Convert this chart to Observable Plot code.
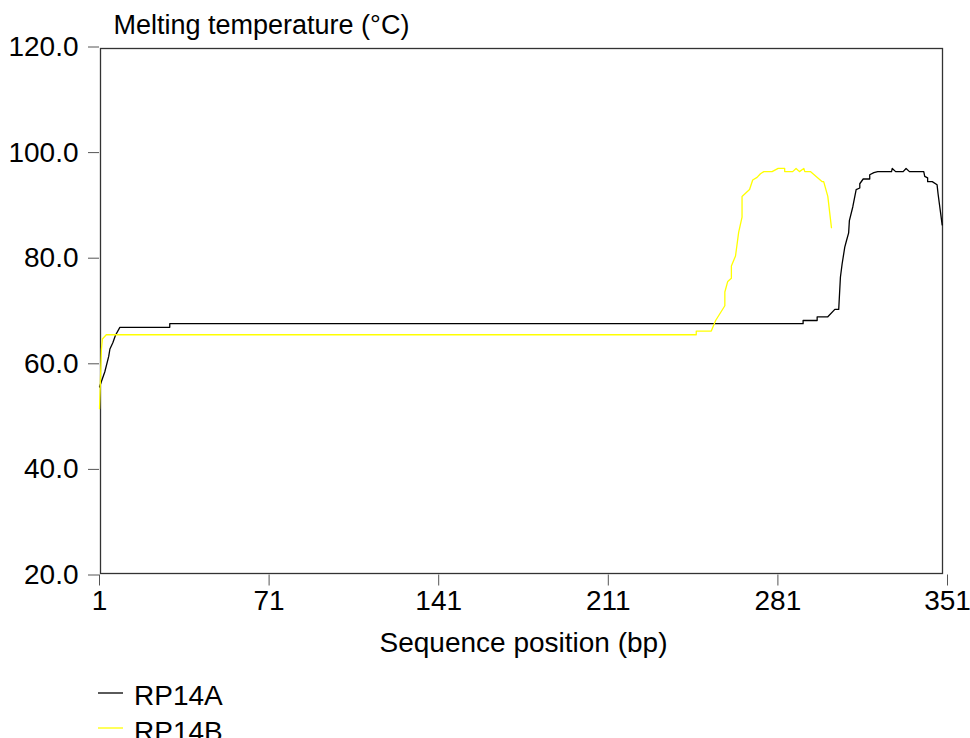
<!DOCTYPE html>
<html><head><meta charset="utf-8">
<script src="https://cdn.jsdelivr.net/npm/d3@7"></script>
<script src="https://cdn.jsdelivr.net/npm/@observablehq/plot@0.6"></script>
<style>
body{margin:0;background:#fff;font-family:"Liberation Sans",Arial,sans-serif;}
#chart svg{display:block}
#legend{padding-top:8px;margin-left:98px;font-size:28px;color:#000;line-height:35.6px}
.row{display:flex;align-items:center;height:35.6px}
.row svg{display:block;position:relative;top:-3px;margin-right:11px}
</style></head><body><div id="chart"></div><div id="legend"></div>
<script>
const seriesNames = ["RP14A", "RP14B"];
const seriesColors = ["#000000", "#ffff00"];

const posA = [1, 3.2, 4.8, 5.3, 6.5, 7.6, 9.4, 30.0, 30.0, 291.4, 291.4, 297.2, 297.2, 301.6, 304.5, 306.1, 306.8, 307.5, 308.6, 309.3, 310.2, 310.5, 311.9, 313.3, 314.8, 314.8, 316.2, 318.9, 318.9, 320.6, 322.2, 327.9, 328.2, 329.6, 332.7, 333.9, 335.3, 341.2, 341.6, 342.8, 342.8, 344.7, 346.7, 347.1, 348.8];
const tmA  = [55.6, 58.5, 61.4, 62.8, 64.0, 65.4, 66.9, 66.9, 67.6, 67.6, 68.2, 68.2, 68.9, 68.9, 70.3, 70.3, 76.4, 78.9, 82.1, 83.3, 84.8, 87.1, 89.7, 93.0, 93.3, 94.1, 95.0, 95.0, 95.8, 96.2, 96.4, 96.4, 97.0, 96.4, 96.4, 97.0, 96.4, 96.4, 95.5, 95.2, 94.5, 94.5, 93.9, 92.2, 86.3];

const posB = [1, 1.8, 2.2, 3.8, 247.3, 247.3, 253.5, 255.3, 259.1, 259.1, 260.3, 261.8, 261.8, 263.5, 264.8, 266.2, 266.2, 269.3, 270.6, 272.4, 273.8, 275.2, 278.6, 281.1, 283.8, 283.8, 287.1, 288.5, 289.9, 291.7, 292.1, 294.4, 299.3, 299.9, 301.6, 303.1];
const tmB  = [51.5, 62.8, 64.7, 65.5, 65.5, 66.2, 66.2, 68.2, 71.0, 73.6, 75.6, 76.2, 78.5, 80.4, 84.9, 87.8, 91.7, 93.0, 94.8, 95.3, 96.0, 96.4, 96.4, 97.0, 97.0, 96.4, 96.4, 97.0, 96.4, 97.0, 96.4, 96.4, 94.5, 94.5, 91.7, 85.8];

const xTicks = [1, 71, 141, 211, 281, 351];
const yTicks = [20, 40, 60, 80, 100, 120];
const xTitle = "Sequence position (bp)";
const yTitle = "Melting temperature (°C)";

const dataA = posA.map((p, i) => ({pos: p, tm: tmA[i]}));
const dataB = posB.map((p, i) => ({pos: p, tm: tmB[i]}));

const font = "Liberation Sans, Arial, sans-serif";
const chart = Plot.plot({
  width: 970,
  height: 670,
  marginLeft: 99,
  marginRight: 23,
  marginTop: 46.5,
  marginBottom: 95.5,
  style: {fontFamily: font, fontSize: "28px", color: "#000", background: "#fff"},
  x: {domain: [1, 351]},
  y: {domain: [20, 120]},
  marks: [
    Plot.frame({stroke: "#333", strokeWidth: 1.3, insetLeft: 1, insetRight: 5, insetTop: 1.5, insetBottom: 1.5}),
    Plot.axisY(yTicks, {tickSize: 11, tickPadding: 10, tickFormat: d => d.toFixed(1), fontSize: 28, stroke: "#555", fill: "#000", label: null}),
    Plot.axisX(xTicks, {tickSize: 11, tickPadding: 4, tickFormat: d => String(d), fontSize: 28, stroke: "#555", fill: "#000", label: null}),
    Plot.line(dataA, {x: "pos", y: "tm", stroke: seriesColors[0], strokeWidth: 1.3}),
    Plot.line(dataB, {x: "pos", y: "tm", stroke: seriesColors[1], strokeWidth: 1.3}),
    Plot.text([yTitle], {frameAnchor: "top-left", text: d => d, textAnchor: "start", lineAnchor: "bottom", dx: 14, dy: -13.5, fontSize: 27, fill: "#000"}),
    Plot.text([xTitle], {frameAnchor: "bottom", text: d => d, textAnchor: "middle", lineAnchor: "bottom", dy: 77, fontSize: 28, fill: "#000"})
  ]
});
document.getElementById("chart").appendChild(chart);

const legend = document.getElementById("legend");
seriesNames.forEach((name, i) => {
  const row = document.createElement("div");
  row.className = "row";
  row.innerHTML = `<svg width="25" height="4"><line x1="0" x2="25" y1="2" y2="2" stroke="${seriesColors[i]}" stroke-width="1.3"/></svg><span>${name}</span>`;
  legend.appendChild(row);
});
</script>
</body></html>
